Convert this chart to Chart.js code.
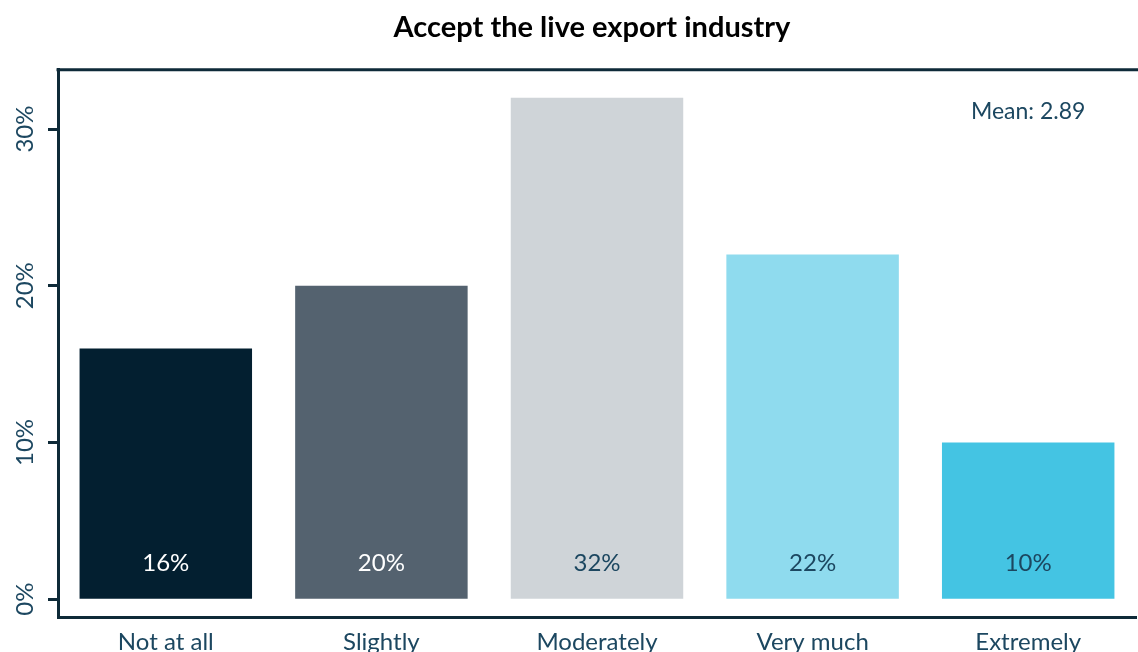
<!DOCTYPE html>
<html>
<head>
<meta charset="utf-8">
<title>Accept the live export industry</title>
<script src="https://cdn.jsdelivr.net/npm/chart.js@4"></script>
<style>
  html, body { margin: 0; padding: 0; background: #fff; }
  #chartWrap { width: 1138px; height: 652px; }
</style>
</head>
<body>
<div id="chartWrap"><canvas id="acceptChart"></canvas></div>
<script>
// survey responses
const categories = ['Not at all', 'Slightly', 'Moderately', 'Very much', 'Extremely'];
const percentages = [16, 20, 32, 22, 10];
const barColors = ['#031f30', '#54626f', '#cfd4d8', '#8fdbee', '#44c4e3'];
const labelColors = ['#ffffff', '#ffffff', '#1c4760', '#1c4760', '#1c4760'];
const yTicks = [0, 10, 20, 30];
const meanText = 'Mean: 2.89';

const textColor = '#1c4760';
const axisColor = '#0e2a38';
const fontFamily = 'Lato, "Noto Sans", sans-serif';

// top border of the plot box, rotated y labels, value labels and the mean note
const extrasPlugin = {
  id: 'extras',
  afterDraw(chart) {
    const ctx = chart.ctx;
    const area = chart.chartArea;
    const x = chart.scales.x;
    const y = chart.scales.y;

    ctx.save();
    ctx.strokeStyle = axisColor;
    ctx.lineWidth = 3;
    ctx.beginPath();
    ctx.moveTo(area.left - 1.5, area.top);
    ctx.lineTo(chart.width, area.top);
    ctx.stroke();

    ctx.font = '24px ' + fontFamily;
    ctx.textAlign = 'center';
    ctx.textBaseline = 'middle';
    ctx.fillStyle = textColor;
    yTicks.forEach(v => {
      ctx.save();
      ctx.translate(area.left - 33, y.getPixelForValue(v));
      ctx.rotate(-Math.PI / 2);
      ctx.fillText(v + '%', 0, 0);
      ctx.restore();
    });

    const meta = chart.getDatasetMeta(0);
    meta.data.forEach((bar, i) => {
      ctx.fillStyle = labelColors[i];
      ctx.fillText(percentages[i] + '%', bar.x, y.getPixelForValue(0) - 36);
    });

    ctx.font = '23px ' + fontFamily;
    ctx.fillStyle = textColor;
    ctx.fillText(meanText, x.getPixelForValue(categories.length - 1), area.top + 42);
    ctx.restore();
  }
};

function renderChart() {
  const ctx = document.getElementById('acceptChart').getContext('2d');

  new Chart(ctx, {
    type: 'bar',
    data: {
      labels: categories,
      datasets: [{
        data: percentages,
        backgroundColor: barColors,
        barPercentage: 0.8,
        categoryPercentage: 1.0
      }]
    },
    options: {
      responsive: true,
      maintainAspectRatio: false,
      animation: false,
      layout: { padding: { left: 48, right: 2, bottom: -16 } },
      plugins: {
        legend: { display: false },
        tooltip: { enabled: false },
        title: {
          display: true,
          text: 'Accept the live export industry',
          color: '#000',
          font: { family: fontFamily, size: 29, weight: 'bold' },
          padding: { top: 10, bottom: 25 }
        }
      },
      scales: {
        x: {
          grid: { display: true, drawOnChartArea: false, drawTicks: false },
          border: { display: true, color: axisColor, width: 3 },
          ticks: {
            color: textColor,
            font: { family: fontFamily, size: 24 },
            padding: 11,
            maxRotation: 0
          }
        },
        y: {
          min: -1.15,
          max: 33.78,
          afterBuildTicks: axis => {
            axis.ticks = yTicks.map(v => ({ value: v }));
          },
          grid: {
            display: true,
            drawOnChartArea: false,
            drawTicks: true,
            tickLength: 10,
            tickColor: axisColor,
            tickWidth: 3
          },
          border: { display: true, color: axisColor, width: 3 },
          ticks: { display: false }
        }
      }
    },
    plugins: [extrasPlugin]
  });
}

window.onload = () => {
  renderChart();
};
</script>
</body>
</html>
